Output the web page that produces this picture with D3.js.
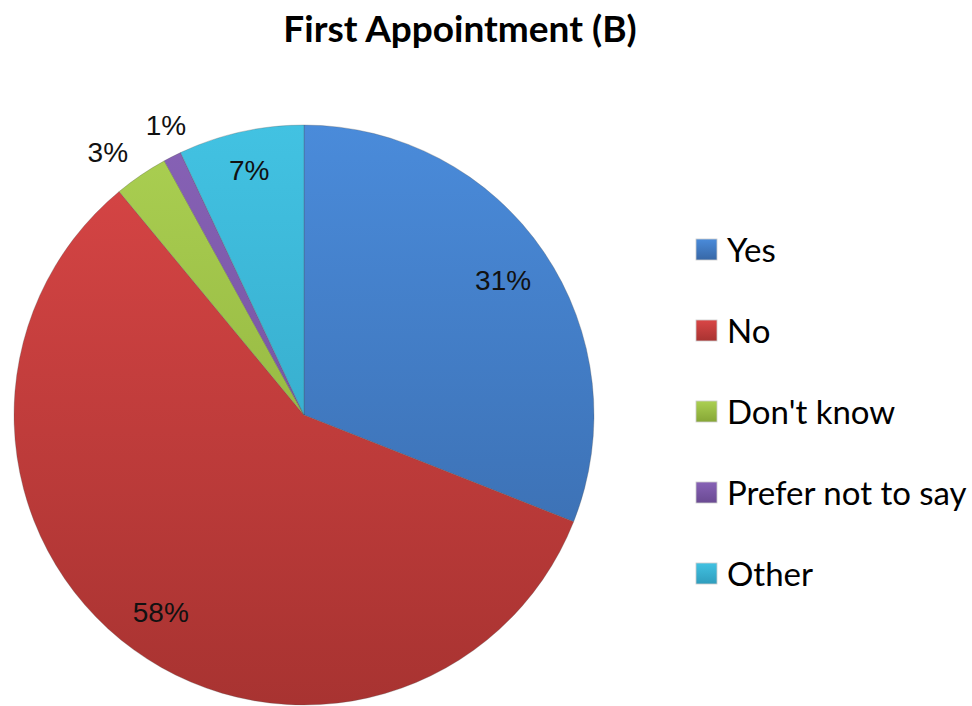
<!DOCTYPE html>
<html>
<head>
<meta charset="utf-8">
<title>First Appointment (B)</title>
<script src="https://cdn.jsdelivr.net/npm/d3@7"></script>
<style>
  body { margin: 0; background: #fff; }
  svg { display: block; }
</style>
</head>
<body>
<svg id="chart" width="972" height="706"></svg>
<script>
// data
const categories = ["Yes", "No", "Don't know", "Prefer not to say", "Other"];
const values = [31, 58, 3, 1, 7];
const pctLabels = ["31%", "58%", "3%", "1%", "7%"];
const topColors = ["#4a8bda", "#d94646", "#abd052", "#8762b6", "#42c2e2"];
const bottomColors = ["#3767a6", "#a83331", "#86a636", "#6a4a92", "#2f9dbd"];

const svg = d3.select("#chart");
const cx = 304, cy = 415, r = 290;

// gradients, top to bottom like the original
const defs = svg.append("defs");
categories.forEach((c, i) => {
  const g = defs.append("linearGradient")
    .attr("id", "grad" + i)
    .attr("gradientUnits", "userSpaceOnUse")
    .attr("x1", 0).attr("y1", -r).attr("x2", 0).attr("y2", r);
  g.append("stop").attr("offset", "0%").attr("stop-color", topColors[i]);
  g.append("stop").attr("offset", "100%").attr("stop-color", bottomColors[i]);

  const lg = defs.append("linearGradient")
    .attr("id", "lgrad" + i)
    .attr("x1", 0).attr("y1", 0).attr("x2", 0).attr("y2", 1);
  lg.append("stop").attr("offset", "0%").attr("stop-color", topColors[i]);
  lg.append("stop").attr("offset", "100%").attr("stop-color", bottomColors[i]);
});

// title
svg.append("text")
  .attr("x", 460).attr("y", 42)
  .attr("text-anchor", "middle")
  .style("font-family", "Lato, 'Open Sans', sans-serif")
  .style("font-weight", "bold")
  .style("font-size", "37px")
  .text("First Appointment (B)");

const pie = d3.pie().sort(null).value(d => d);
const arcs = pie(values);
const arc = d3.arc().innerRadius(0).outerRadius(r);

const g = svg.append("g").attr("transform", `translate(${cx},${cy})`);
g.selectAll("path.slice")
  .data(arcs)
  .enter().append("path")
  .attr("class", "slice")
  .attr("d", arc)
  .attr("fill", (d, i) => `url(#grad${i})`)
  .attr("stroke", "rgba(80,80,80,0.35)")
  .attr("stroke-width", 0.8);

// percentage labels: big slices inside, small ones outside
// (small outside labels get a little nudge so they don't collide)
const labelRadius = [0.83, 0.84, 1.13, 1.11, 0.865];
const nudge = [[0, 0], [0, 0], [-12, 8], [8, -3], [0, 0]];
g.selectAll("text.pct")
  .data(arcs)
  .enter().append("text")
  .attr("class", "pct")
  .attr("transform", (d, i) => {
    const a = (d.startAngle + d.endAngle) / 2;
    const rr = r * labelRadius[i];
    return `translate(${Math.sin(a) * rr + nudge[i][0]},${-Math.cos(a) * rr + nudge[i][1]})`;
  })
  .attr("text-anchor", "middle")
  .attr("dy", "0.35em")
  .style("font-family", "'Liberation Sans', Arial, sans-serif")
  .style("font-size", "28px")
  .attr("fill", "#111")
  .text((d, i) => pctLabels[i]);

// legend
const legend = svg.append("g").attr("transform", "translate(696,250)");
const items = legend.selectAll("g")
  .data(categories)
  .enter().append("g")
  .attr("transform", (d, i) => `translate(0,${i * 81})`);
items.append("rect")
  .attr("x", 0).attr("y", -11)
  .attr("width", 21).attr("height", 21)
  .attr("fill", (d, i) => `url(#lgrad${i})`)
  .attr("stroke", "#ccc").attr("stroke-width", 0.8);
items.append("text")
  .attr("x", 31).attr("y", 0)
  .attr("dy", "0.35em")
  .style("font-family", "Lato, 'Open Sans', sans-serif")
  .style("font-size", "33px")
  .attr("fill", "#000")
  .text(d => d);
</script>
</body>
</html>
